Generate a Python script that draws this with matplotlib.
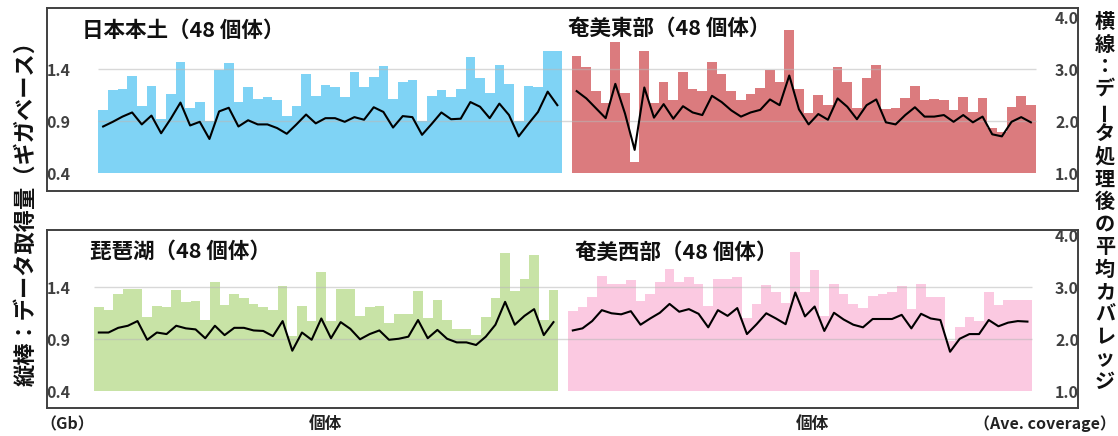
import matplotlib
matplotlib.use("Agg")
import matplotlib.pyplot as plt
import numpy as np

plt.rcParams['font.family'] = ['Noto Sans CJK JP', 'DejaVu Sans']

# --- data: sequencing yield (Gb, bars) and mean coverage after processing (line) ---
honshu_gb = [1.01, 1.20, 1.21, 1.34, 1.05, 1.24, 0.92, 1.16, 1.47, 1.03, 1.09, 0.90,
             1.39, 1.46, 1.09, 1.23, 1.11, 1.13, 1.10, 0.95, 1.05, 1.35, 1.14, 1.25,
             1.23, 1.13, 1.37, 1.23, 1.33, 1.43, 1.11, 1.28, 1.30, 0.90, 1.14, 1.20,
             1.13, 1.21, 1.52, 1.32, 1.17, 1.44, 1.26, 0.90, 1.24, 1.23, 1.58, 1.58]
honshu_cov = [1.90, 1.99, 2.09, 2.17, 1.94, 2.11, 1.77, 2.05, 2.36, 1.92, 1.99, 1.66,
              2.19, 2.26, 1.90, 2.02, 1.94, 1.94, 1.87, 1.76, 1.94, 2.13, 1.96, 2.06,
              2.06, 1.99, 2.08, 2.03, 2.27, 2.18, 1.88, 2.10, 2.08, 1.74, 1.95, 2.17,
              2.04, 2.05, 2.37, 2.28, 2.06, 2.34, 2.12, 1.71, 1.95, 2.18, 2.57, 2.31]

amami_e_gb = [1.53, 1.42, 1.19, 1.08, 1.66, 1.17, 0.51, 1.58, 1.08, 1.28, 1.10, 1.37,
              1.21, 1.19, 1.47, 1.35, 1.19, 1.10, 1.16, 1.22, 1.39, 1.28, 1.78, 1.21,
              0.98, 1.15, 1.06, 1.42, 1.28, 1.03, 1.32, 1.44, 1.02, 1.03, 1.12, 1.24,
              1.10, 1.11, 1.10, 1.01, 1.13, 0.99, 1.12, 0.84, 0.80, 1.04, 1.14, 1.06]
amami_e_cov = [2.58, 2.44, 2.25, 2.06, 2.72, 2.15, 1.45, 2.65, 2.07, 2.33, 2.05, 2.29,
               2.17, 2.12, 2.49, 2.37, 2.21, 2.09, 2.17, 2.22, 2.42, 2.31, 2.88, 2.23,
               1.94, 2.14, 2.03, 2.44, 2.28, 2.04, 2.31, 2.42, 1.98, 1.94, 2.12, 2.27,
               2.09, 2.09, 2.12, 1.99, 2.12, 1.98, 2.09, 1.75, 1.71, 1.99, 2.08, 1.98]

biwa_gb = [1.21, 1.18, 1.34, 1.38, 1.38, 1.11, 1.22, 1.21, 1.37, 1.26, 1.27, 1.09,
           1.45, 1.23, 1.34, 1.30, 1.24, 1.21, 1.18, 1.41, 0.93, 1.22, 1.08, 1.55,
           1.08, 1.38, 1.38, 1.12, 1.21, 1.22, 1.06, 1.14, 1.14, 1.36, 1.10, 1.28,
           1.09, 1.00, 1.00, 0.94, 1.11, 1.30, 1.73, 1.36, 1.48, 1.71, 1.09, 1.37]
biwa_cov = [2.13, 2.13, 2.22, 2.26, 2.35, 1.99, 2.13, 2.10, 2.26, 2.21, 2.19, 2.02,
            2.26, 2.08, 2.22, 2.22, 2.17, 2.16, 2.06, 2.35, 1.78, 2.13, 1.99, 2.40,
            2.02, 2.33, 2.20, 2.00, 2.10, 2.17, 1.99, 2.01, 2.05, 2.37, 2.02, 2.18,
            2.01, 1.94, 1.94, 1.89, 2.05, 2.28, 2.72, 2.28, 2.45, 2.58, 2.08, 2.33]

amami_w_gb = [1.17, 1.21, 1.31, 1.51, 1.43, 1.43, 1.47, 1.27, 1.34, 1.45, 1.58, 1.45,
              1.50, 1.43, 1.22, 1.48, 1.48, 1.50, 1.10, 1.24, 1.42, 1.35, 1.25, 1.74,
              1.35, 1.57, 1.12, 1.43, 1.34, 1.24, 1.20, 1.32, 1.34, 1.35, 1.41, 1.19,
              1.43, 1.31, 1.31, 0.88, 1.02, 1.11, 1.08, 1.35, 1.23, 1.28, 1.28, 1.28]
amami_w_cov = [2.17, 2.21, 2.35, 2.56, 2.50, 2.48, 2.54, 2.28, 2.40, 2.51, 2.68, 2.53,
               2.58, 2.49, 2.23, 2.56, 2.45, 2.60, 2.10, 2.29, 2.50, 2.40, 2.29, 2.90,
               2.44, 2.63, 2.16, 2.51, 2.38, 2.28, 2.23, 2.39, 2.39, 2.39, 2.47, 2.21,
               2.49, 2.40, 2.37, 1.76, 2.01, 2.10, 2.10, 2.37, 2.25, 2.32, 2.35, 2.34]

titles_top = ["日本本土（48 個体）", "奄美東部（48 個体）"]
titles_bottom = ["琵琶湖（48 個体）", "奄美西部（48 個体）"]
gb_ticks = [0.4, 0.9, 1.4]
cov_ticks = [1.0, 2.0, 3.0, 4.0]

BLUE, RED, GREEN, PINK = "#7fd3f5", "#db7b7e", "#c8e3a6", "#fbc9e1"
FRAME = "#404040"
W, H = 1118, 436

fig = plt.figure(figsize=(W / 100, H / 100), dpi=100)


def panel(box_px, bar_start, slot, ylim, groups, titles, title_pos):
    left, top, right, bottom = box_px
    ax = fig.add_axes([left / W, 1 - bottom / H, (right - left) / W, (bottom - top) / H])
    n = len(groups[0][0])
    x0 = np.arange(n)
    x1 = np.arange(n) + n + 1
    base = 0.4
    for xs, (gb, cov, col) in zip((x0, x1), groups):
        ax.bar(xs, np.array(gb) - base, bottom=base, width=1.0, color=col,
               linewidth=0, zorder=1)
    ax.hlines([0.9, 1.4], -0.5, 2 * n + 0.5, colors="#b8b8b8", linewidth=1.0,
              alpha=0.55, zorder=2)
    xl = -0.5 - (bar_start - left) / slot
    xr = -0.5 + (right - bar_start) / slot
    ax.set_xlim(xl, xr)
    ax.set_ylim(*ylim)
    ax.set_xticks([])
    ax.set_yticks(gb_ticks)
    ax.set_yticklabels([f"{v:.1f}" for v in gb_ticks])
    ax.tick_params(axis="y", length=0, pad=-17, labelsize=11.5,
                   labelcolor=FRAME)
    for lab in ax.get_yticklabels():
        lab.set_fontweight("bold")

    ax2 = ax.twinx()
    ax2.set_ylim(1 + (ylim[0] - base) * 2, 1 + (ylim[1] - base) * 2)
    for xs, (gb, cov, col) in zip((x0, x1), groups):
        ax2.plot(xs, cov, color="black", linewidth=1.5, zorder=3)
    ax2.set_yticks(cov_ticks)
    ax2.set_yticklabels([f"{v:.1f}" for v in cov_ticks])
    ax2.tick_params(axis="y", length=0, pad=-16.5, labelsize=11.5,
                    labelcolor=FRAME)
    for lab in ax2.get_yticklabels():
        lab.set_fontweight("bold")
    for a in (ax, ax2):
        for s in a.spines.values():
            s.set_color(FRAME)
            s.set_linewidth(1.2)

    for t, (tx, ty) in zip(titles, title_pos):
        fig.text(tx / W, 1 - ty / H, t, fontsize=15.5, fontweight="bold",
                 ha="left", va="center", color="#111111")
    return ax


panel((47, 8, 1078, 191), 98.3, 9.664, (0.230, 1.989),
      [(honshu_gb, honshu_cov, BLUE), (amami_e_gb, amami_e_cov, RED)],
      titles_top, [(82, 30), (568, 28)])
panel((47, 230, 1078, 408), 94.0, 9.673, (0.239, 1.951),
      [(biwa_gb, biwa_cov, GREEN), (amami_w_gb, amami_w_cov, PINK)],
      titles_bottom, [(90, 251), (575, 252)])

# axis captions
fig.text(26 / W, 1 - 208 / H, "縦棒：データ取得量（ギガベース）", rotation=90,
         fontsize=16, fontweight="bold", ha="center", va="center",
         color="#111111")

right_caption = "横線：データ処理後の平均カバレッジ"
for i, ch in enumerate(right_caption):
    y = 21.5 + 22.5 * i
    rot = 90 if ch == "ー" else 0
    fig.text(1105 / W, 1 - y / H, ch, rotation=rot, fontsize=14.5,
             fontweight="bold", ha="center", va="center", color="#111111")

fig.text(40 / W, 1 - 424 / H, "（Gb）", fontsize=11.5, fontweight="bold",
         ha="left", va="center", color="#222222")
fig.text(325 / W, 1 - 424 / H, "個体", fontsize=12, fontweight="bold",
         ha="center", va="center", color="#222222")
fig.text(812 / W, 1 - 424 / H, "個体", fontsize=12, fontweight="bold",
         ha="center", va="center", color="#222222")
fig.text(1116 / W, 1 - 424 / H, "（Ave. coverage）", fontsize=11.5,
         fontweight="bold", ha="right", va="center", color="#222222")

fig.savefig("out.png", dpi=100)
